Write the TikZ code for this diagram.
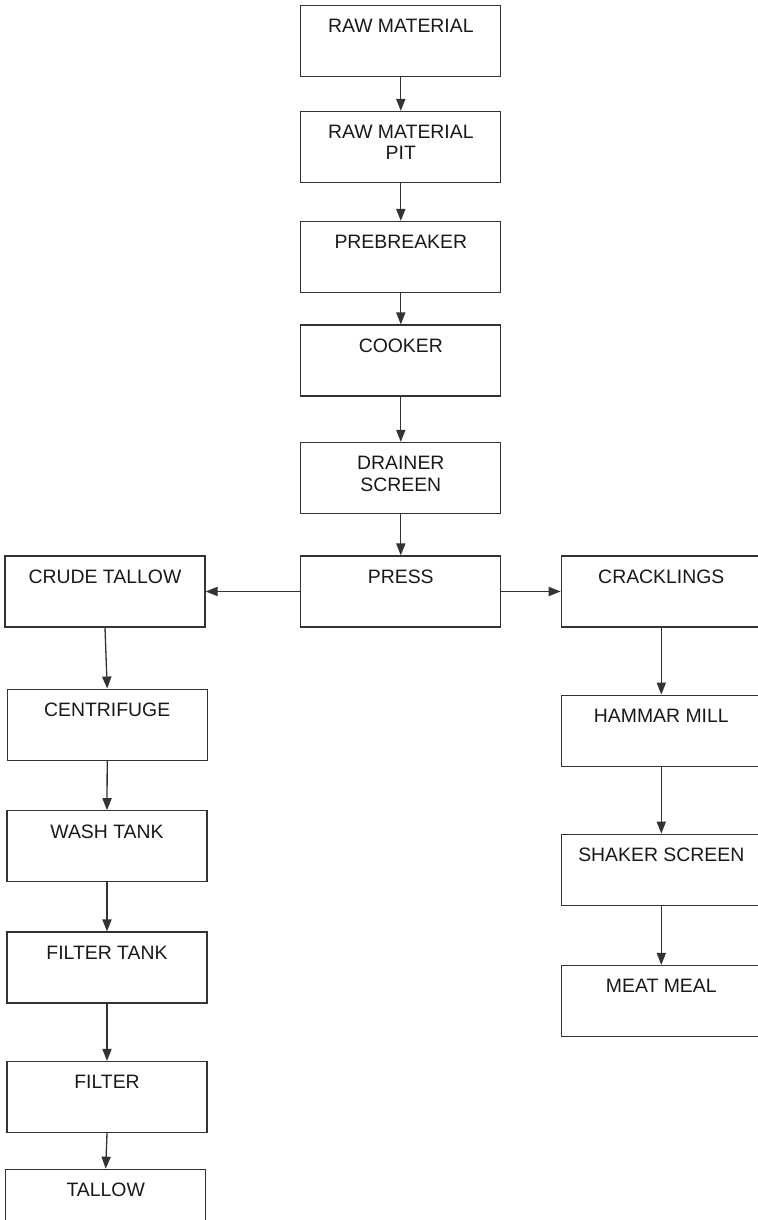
\documentclass[tikz,border=0pt]{standalone}
\usepackage{fontspec}
\setmainfont{Liberation Sans}
\usetikzlibrary{arrows.meta}

\tikzset{
  stage/.style={draw=black!80,line width=0.65pt,minimum width=100pt,minimum height=35.5pt,inner sep=0pt},
  tag/.style={anchor=north,align=center,inner sep=0pt,yshift=-7.1pt,text=black!90,
    font=\fontsize{9.7}{10.6}\selectfont},
  flow/.style={draw=black!80,line width=0.65pt,-{Triangle[length=6pt,width=4.6pt]}}
}

\begin{document}
\begin{tikzpicture}[x=0.5pt,y=-0.5pt]
\useasboundingbox (0,0) rectangle (758,1220);
\clip (0,0) rectangle (758,1220);

% main line
\node[stage] (raw) at (400.8,41.2) {};
\node[tag] (raw-t) at (raw.north) {RAW MATERIAL};
\node[stage] (pit) at (400.8,147) {};
\node[tag] (pit-t) at (pit.north) {RAW MATERIAL\\PIT};
\node[stage] (prebreak) at (400.8,257) {};
\node[tag] (prebreak-t) at (prebreak.north) {PREBREAKER};
\node[stage] (cooker) at (400.8,360.5) {};
\node[tag] (cooker-t) at (cooker.north) {COOKER};
\node[stage] (drainer) at (400.8,478) {};
\node[tag] (drainer-t) at (drainer.north) {DRAINER\\SCREEN};
\node[stage] (press) at (400.8,591.5) {};
\node[tag] (press-t) at (press.north) {PRESS};

% tallow line
\node[stage] (crude) at (105,591.5) {};
\node[tag] (crude-t) at (crude.north) {CRUDE TALLOW};
\node[stage] (centri) at (107.2,724.7) {};
\node[tag] (centri-t) at (centri.north) {CENTRIFUGE};
\node[stage] (wash) at (107,846.3) {};
\node[tag] (wash-t) at (wash.north) {WASH TANK};
\node[stage] (ftank) at (107,967.5) {};
\node[tag] (ftank-t) at (ftank.north) {FILTER TANK};
\node[stage] (filter) at (107,1097) {};
\node[tag] (filter-t) at (filter.north) {FILTER};
\node[stage] (tallow) at (105.7,1204.8) {};
\node[tag] (tallow-t) at (tallow.north) {TALLOW};

% meal line
\node[stage] (crack) at (661.3,591.5) {};
\node[tag] (crack-t) at (crack.north) {CRACKLINGS};
\node[stage] (hammar) at (661.3,730.7) {};
\node[tag] (hammar-t) at (hammar.north) {HAMMAR MILL};
\node[stage] (shaker) at (661.3,869.7) {};
\node[tag] (shaker-t) at (shaker.north) {SHAKER SCREEN};
\node[stage] (meal) at (661.3,1001) {};
\node[tag] (meal-t) at (meal.north) {MEAT MEAL};

\draw[flow] (raw) -- (pit);
\draw[flow] (pit) -- (prebreak);
\draw[flow] (prebreak) -- (cooker);
\draw[flow] (cooker) -- (drainer);
\draw[flow] (drainer) -- (press);
\draw[flow] (press) -- (crude);
\draw[flow] (press) -- (crack);

\draw[flow] (crude.south) -- (centri.north);
\draw[flow] (centri.south) -- (wash.north);
\draw[flow] (wash.south) -- (ftank.north);
\draw[flow] (ftank.south) -- (filter.north);
\draw[flow] (filter.south) -- (tallow.north);

\draw[flow] (crack) -- (hammar);
\draw[flow] (hammar) -- (shaker);
\draw[flow] (shaker) -- (meal);

\end{tikzpicture}
\end{document}
